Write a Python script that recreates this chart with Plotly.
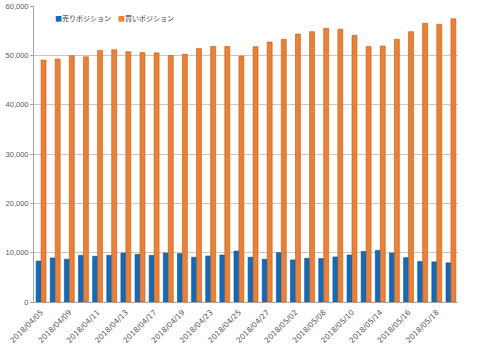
import plotly.graph_objects as go

dates = ["2018/04/05", "2018/04/06", "2018/04/09", "2018/04/10", "2018/04/11", "2018/04/12",
         "2018/04/13", "2018/04/16", "2018/04/17", "2018/04/18", "2018/04/19", "2018/04/20",
         "2018/04/23", "2018/04/24", "2018/04/25", "2018/04/26", "2018/04/27", "2018/05/01",
         "2018/05/02", "2018/05/07", "2018/05/08", "2018/05/09", "2018/05/10", "2018/05/11",
         "2018/05/14", "2018/05/15", "2018/05/16", "2018/05/17", "2018/05/18", "2018/05/21"]

sell = [8300, 8930, 8670, 9460, 9270, 9460, 9920, 9660, 9460, 9920,
        9800, 9070, 9330, 9530, 10320, 9070, 8670, 10000, 8530, 8860,
        8800, 9130, 9530, 10260, 10460, 9920, 8990, 8200, 8130, 7930]

buy = [49050, 49250, 49900, 49700, 51000, 51150, 50750, 50550, 50500, 49950,
       50200, 51400, 51800, 51800, 49850, 51750, 52700, 53250, 54300, 54800,
       55500, 55300, 54050, 51800, 51900, 53250, 54800, 56500, 56300, 57400]

series_names = ["売りポジション", "買いポジション"]
colors = ["#0A6CC4", "#F07F30"]
edge_colors = ["#0A4F90", "#B85A1A"]

tick_labels = dates[::2]

fig = go.Figure()
for name, vals, c, ec in zip(series_names, [sell, buy], colors, edge_colors):
    fig.add_trace(go.Bar(x=dates, y=vals, name=name, showlegend=False,
                         marker=dict(color=c, line=dict(color=ec, width=0.6))))

# legend drawn as text (small Excel-style square keys)
legend_x = [0.045, 0.193]
for name, c, lx in zip(series_names, colors, legend_x):
    fig.add_annotation(xref="paper", yref="paper", x=lx, y=0.96, xanchor="left", yanchor="middle",
                       showarrow=False,
                       text=f'<span style="color:{c};font-size:7px">■</span>{name}',
                       font=dict(family="Noto Sans CJK JP", size=7, color="#404040"))

fig.update_layout(
    width=480, height=344,
    margin=dict(l=34, r=22, t=6, b=42),
    paper_bgcolor="white", plot_bgcolor="white",
    barmode="group", bargap=0.3, bargroupgap=0,
    font=dict(family="Liberation Sans, Arial, sans-serif", size=8, color="#595959"),
    showlegend=False,
)
fig.update_xaxes(type="category", tickmode="array", tickvals=tick_labels, ticktext=tick_labels,
                 tickangle=-45, showline=True, linecolor="#A6A6A6", linewidth=1, automargin=False,
                 ticks="", showgrid=False, ticklabelstandoff=2,
                 tickfont=dict(family="DejaVu Sans", size=7.5, color="#595959"))
fig.update_yaxes(range=[0, 60000], dtick=10000, tickformat=",d", showgrid=True, automargin=False,
                 gridcolor="#C8C8C8", gridwidth=1, showline=True, linecolor="#A6A6A6",
                 ticks="outside", ticklen=3, tickcolor="#A6A6A6", zeroline=False,
                 tickfont=dict(size=7.5, color="#595959"))

fig.write_html("out.html")
